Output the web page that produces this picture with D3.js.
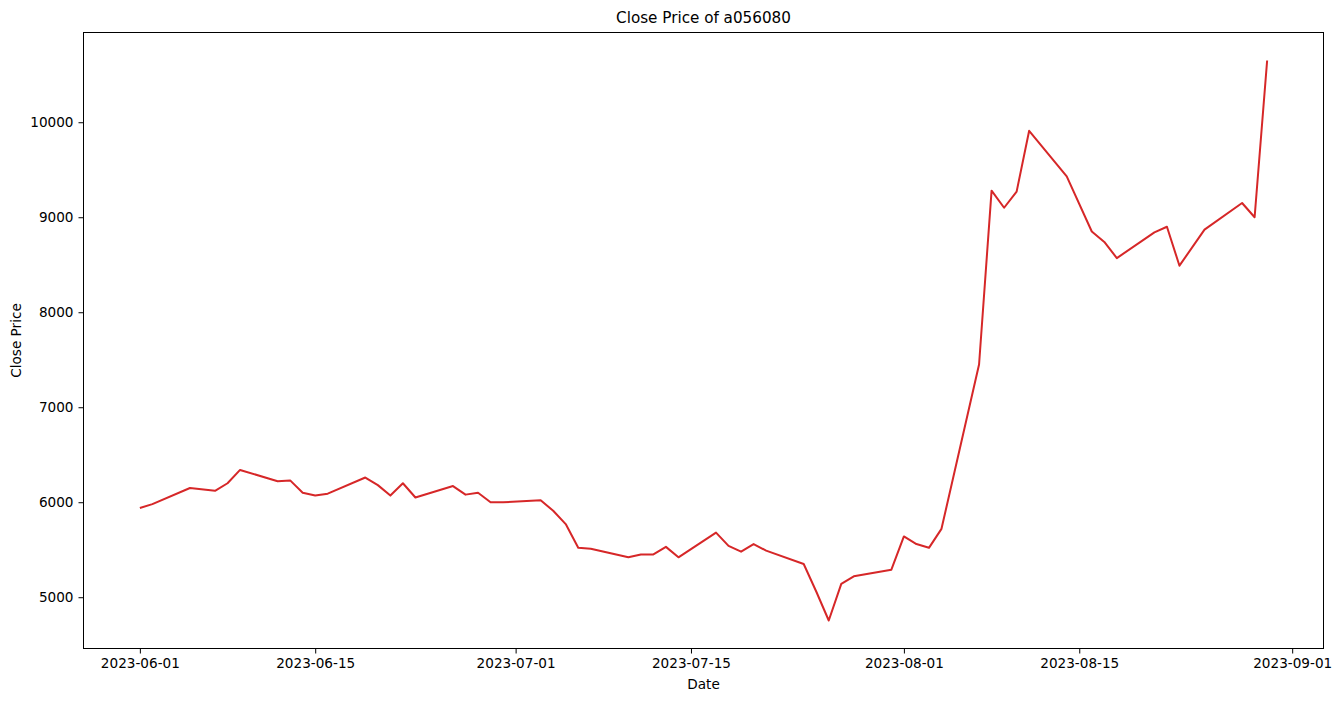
<!DOCTYPE html>
<html>
<head>
<meta charset="utf-8">
<script src="https://cdn.jsdelivr.net/npm/d3@7"></script>
<style>
    body { margin: 0; background: #fff; }
    svg { display: block; font-family: "DejaVu Sans", sans-serif; }
</style>
</head>
<body>
<div id="container"></div>
<script>
const WIDTH = 1341;
const HEIGHT = 701;
// 坐标区
const LEFT = 83.5, RIGHT = 1323.5, TOP = 32.5, BOTTOM = 648.5;

// 交易日与收盘价
const dates = [
    "2023-06-01", "2023-06-02", "2023-06-05", "2023-06-07", "2023-06-08", "2023-06-09",
    "2023-06-12", "2023-06-13", "2023-06-14", "2023-06-15", "2023-06-16",
    "2023-06-19", "2023-06-20", "2023-06-21", "2023-06-22", "2023-06-23",
    "2023-06-26", "2023-06-27", "2023-06-28", "2023-06-29", "2023-06-30",
    "2023-07-03", "2023-07-04", "2023-07-05", "2023-07-06", "2023-07-07",
    "2023-07-10", "2023-07-11", "2023-07-12", "2023-07-13", "2023-07-14",
    "2023-07-17", "2023-07-18", "2023-07-19", "2023-07-20", "2023-07-21",
    "2023-07-24", "2023-07-25", "2023-07-26", "2023-07-27", "2023-07-28",
    "2023-07-31", "2023-08-01", "2023-08-02", "2023-08-03", "2023-08-04",
    "2023-08-07", "2023-08-08", "2023-08-09", "2023-08-10", "2023-08-11",
    "2023-08-14", "2023-08-16", "2023-08-17", "2023-08-18",
    "2023-08-21", "2023-08-22", "2023-08-23", "2023-08-25",
    "2023-08-28", "2023-08-29", "2023-08-30"
];
const closes = [
    5940, 5980, 6150, 6120, 6200, 6340,
    6220, 6230, 6100, 6070, 6090,
    6260, 6180, 6070, 6200, 6050,
    6170, 6080, 6100, 6000, 6000,
    6020, 5910, 5770, 5520, 5510,
    5420, 5450, 5450, 5530, 5420,
    5680, 5540, 5480, 5560, 5490,
    5350, 5060, 4755, 5140, 5220,
    5290, 5640, 5560, 5520, 5720,
    7450, 9280, 9100, 9270, 9910,
    9430, 8850, 8740, 8570,
    8840, 8900, 8490, 8870,
    9150, 9000, 10650
];
const xTicks = ["2023-06-01", "2023-06-15", "2023-07-01", "2023-07-15", "2023-08-01", "2023-08-15", "2023-09-01"];
const yTicks = [5000, 6000, 7000, 8000, 9000, 10000];

const parse = d3.timeParse("%Y-%m-%d");
const data = dates.map((d, i) => ({ date: parse(d), close: closes[i] }));

// matplotlib 默认 5% 边距
function pad(ext) {
    const m = (ext[1] - ext[0]) * 0.05;
    return [ext[0] - m, ext[1] + m];
}
const tExt = d3.extent(data, (d) => +d.date);
const x = d3.scaleTime()
    .domain(pad(tExt).map((t) => new Date(t)))
    .range([LEFT, RIGHT]);
const y = d3.scaleLinear()
    .domain(pad(d3.extent(closes)))
    .range([BOTTOM, TOP]);

const svg = d3.select("#container").append("svg")
    .attr("width", WIDTH)
    .attr("height", HEIGHT);

// 折线
svg.append("path")
    .datum(data)
    .attr("fill", "none")
    .attr("stroke", "#d62728")
    .attr("stroke-width", 2)
    .attr("stroke-linejoin", "round")
    .attr("d", d3.line().x((d) => x(d.date)).y((d) => y(d.close)));

// 坐标轴
const fmt = d3.timeFormat("%Y-%m-%d");
const xAxis = svg.append("g")
    .attr("transform", `translate(0,${BOTTOM})`)
    .call(d3.axisBottom(x).tickValues(xTicks.map(parse)).tickFormat(fmt).tickSize(5).tickPadding(5));
const yAxis = svg.append("g")
    .attr("transform", `translate(${LEFT},0)`)
    .call(d3.axisLeft(y).tickValues(yTicks).tickFormat(d3.format("d")).tickSize(5).tickPadding(5));
[xAxis, yAxis].forEach((g) => {
    g.select(".domain").remove();
    g.selectAll("text").attr("font-size", 13.6).attr("font-family", "DejaVu Sans").attr("fill", "#000");
    g.selectAll("line").attr("stroke", "#000").attr("stroke-width", 1);
});

// 边框
svg.append("rect")
    .attr("x", LEFT).attr("y", TOP)
    .attr("width", RIGHT - LEFT).attr("height", BOTTOM - TOP)
    .attr("fill", "none").attr("stroke", "#000").attr("stroke-width", 1);

// 标题与轴标签
svg.append("text")
    .attr("x", (LEFT + RIGHT) / 2).attr("y", 23)
    .attr("text-anchor", "middle").attr("font-size", 15.2)
    .text("Close Price of a056080");
svg.append("text")
    .attr("x", (LEFT + RIGHT) / 2).attr("y", 689)
    .attr("text-anchor", "middle").attr("font-size", 13.6)
    .text("Date");
svg.append("text")
    .attr("transform", `translate(21,${(TOP + BOTTOM) / 2}) rotate(-90)`)
    .attr("text-anchor", "middle").attr("font-size", 13.6)
    .text("Close Price");
</script>
</body>
</html>
